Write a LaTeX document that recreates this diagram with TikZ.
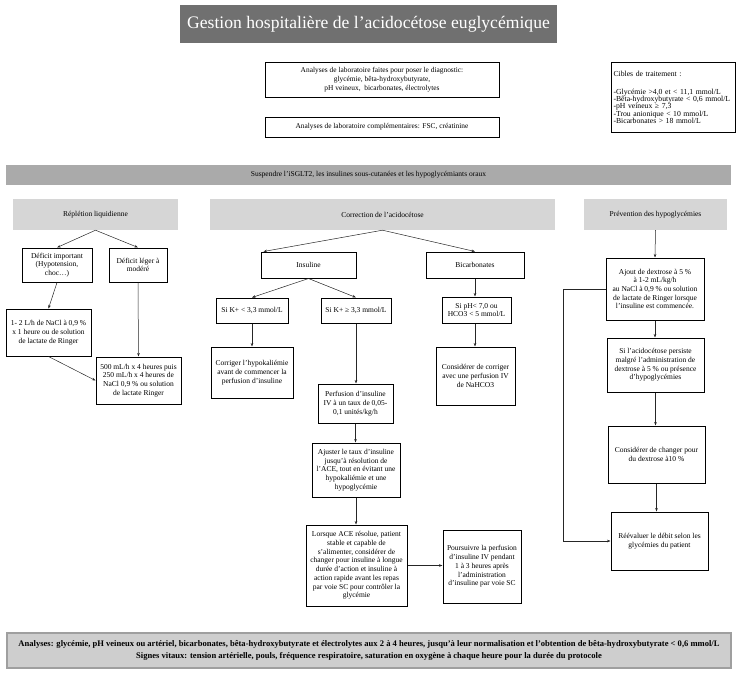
\documentclass[tikz,border=0pt]{standalone}
\usepackage{fontspec}
\setmainfont{Liberation Serif}
\usepackage{tikz}
\usetikzlibrary{arrows.meta}
\definecolor{titlegray}{RGB}{112,112,112}
\definecolor{bannergray}{RGB}{170,170,170}
\definecolor{hdrgray}{RGB}{214,214,214}
\definecolor{footgray}{RGB}{206,206,206}
\newcommand{\flowtext}{\fontsize{7.5}{8.7}\selectfont}
\newcommand{\labtext}{\fontsize{7.4}{9}\selectfont}

\begin{document}
\begin{tikzpicture}[x=1pt, y=-1pt,
    box/.style={draw, line width=1pt, align=center, font=\flowtext, inner sep=1pt},
    hdr/.style={fill=hdrgray, align=center, font=\flowtext, minimum height=31pt},
    arr/.style={-{Stealth[length=3.5pt,width=2.6pt]}, line width=0.5pt, draw=black!85}]
    \useasboundingbox (0,0) rectangle (737,678);

    % title and lab boxes
    \node[fill=titlegray, text=white, font=\fontsize{17.6}{19}\selectfont,
      minimum width=377pt, minimum height=38pt] (title) at (368.5,24)
      {Gestion hospitalière de l’acidocétose euglycémique};
    \node[box, font=\labtext, minimum width=234pt, minimum height=35pt] (lab1) at (382,79.5)
      {Analyses de laboratoire faites pour poser le diagnostic:\\
       glycémie, bêta-hydroxybutyrate,\\ pH veineux,\ \ bicarbonates, électrolytes};
    \node[box, font=\labtext, minimum width=234pt, minimum height=20pt] (lab2) at (382,127)
      {Analyses de laboratoire complémentaires: FSC, créatinine};
    \node[box, font=\fontsize{7.7}{7.4}\selectfont, align=left, anchor=north west,
      minimum width=124pt, minimum height=70pt, inner sep=2pt, text width=120pt] (cibles) at (611,62)
      {Cibles de traitement :\\[10pt]
       -Glycémie >4,0 et < 11,1 mmol/L\\ -Bêta-hydroxybutyrate < 0,6 mmol/L\\
       -pH veineux ≥ 7,3\\ -Trou anionique < 10 mmol/L\\ -Bicarbonates > 18 mmol/L\\[3pt]};

    \node[fill=bannergray, font=\flowtext, minimum width=725pt, minimum height=20pt] (stop) at (368.5,175)
      {Suspendre l’iSGLT2, les insulines sous-cutanées et les hypoglycémiants oraux};

    % column headers
    \node[hdr, minimum width=165pt] (hdrL) at (95.5,214.5) {Réplétion liquidienne};
    \node[hdr, minimum width=345pt] (hdrM) at (382.5,214.5) {Correction de l’acidocétose};
    \node[hdr, minimum width=143pt] (hdrR) at (655.5,214.5) {Prévention des hypoglycémies};

    % fluid column
    \node[box, minimum width=70pt, minimum height=34pt] (defImp) at (57,265)
      {Déficit important\\ (Hypotension,\\ choc…)};
    \node[box, minimum width=58pt, minimum height=34pt] (defLeg) at (138,265)
      {Déficit léger à\\ modéré};
    \node[box, minimum width=85pt, minimum height=47pt] (nacl) at (48.5,332.5)
      {1- 2 L/h de NaCl à 0,9 \%\\ x 1 heure ou de solution\\ de lactate de Ringer};
    \node[box, minimum width=85pt, minimum height=47pt] (ml500) at (138.5,380.5)
      {500 mL/h x 4 heures puis\\ 250 mL/h x 4 heures de\\ NaCl 0,9 \% ou solution\\ de lactate Ringer};

    % acidosis column
    \node[box, minimum width=95pt, minimum height=26pt] (ins) at (308.5,265) {Insuline};
    \node[box, minimum width=98pt, minimum height=26pt] (bic) at (475,265) {Bicarbonates};
    \node[box, minimum width=72pt, minimum height=25pt] (kLow) at (252,310.5) {Si K+ < 3,3 mmol/L};
    \node[box, minimum width=70pt, minimum height=25pt] (kHigh) at (356,310.5) {Si K+ ≥ 3,3 mmol/L};
    \node[box, minimum width=69pt, minimum height=26pt] (phLow) at (476.5,310)
      {Si pH< 7,0 ou\\ HCO3 < 5 mmol/L};
    \node[box, minimum width=82pt, minimum height=51pt] (corrK) at (252,372.5)
      {Corriger l'hypokaliémie\\ avant de commencer la\\ perfusion d’insuline};
    \node[box, minimum width=79pt, minimum height=58pt] (nahco) at (475.5,376)
      {Considérer de corriger\\ avec une perfusion IV\\ de NaHCO3};
    \node[box, minimum width=75pt, minimum height=39pt] (perf) at (355.5,403.5)
      {Perfusion d’insuline\\ IV à un taux de 0,05-\\ 0,1 unités/kg/h};
    \node[box, minimum width=88pt, minimum height=54pt] (ajust) at (356,470)
      {Ajuster le taux d’insuline\\ jusqu’à résolution de\\ l’ACE, tout en évitant une\\
       hypokaliémie et une\\ hypoglycémie};
    \node[box, minimum width=101pt, minimum height=81pt] (lorsq) at (356.5,565.5)
      {Lorsque ACE résolue, patient\\ stable et capable de\\ s’alimenter, considérer de\\
       changer pour insuline à longue\\ durée d’action et insuline à\\ action rapide avant les repas\\
       par voie SC pour contrôler la\\ glycémie};
    \node[box, minimum width=78pt, minimum height=73pt] (poursuiv) at (482,566.5)
      {Poursuivre la perfusion\\ d’insuline IV pendant\\ 1 à 3 heures après\\ l’administration\\
       d’insuline par voie SC};

    % hypoglycaemia column
    \node[box, minimum width=98pt, minimum height=62pt] (ajout) at (655,289)
      {Ajout de dextrose à 5 \%\\ à 1-2 mL/kg/h\\ au NaCl à 0,9 \% ou solution\\
       de lactate de Ringer lorsque\\ l’insuline est commencée.};
    \node[box, minimum width=97pt, minimum height=54pt] (persist) at (655.5,365)
      {Si l’acidocétose persiste\\ malgré l’administration de\\ dextrose à 5 \% ou présence\\
       d’hypoglycémies};
    \node[box, minimum width=97pt, minimum height=57pt] (dex10) at (656.5,454.5)
      {Considérer de changer pour\\ du dextrose à10 \%};
    \node[box, minimum width=97pt, minimum height=58pt] (reeval) at (659.5,541)
      {Réévaluer le débit selon les\\ glycémies du patient};
    \coordinate (loopx) at (563,0);

    % monitoring
    \node[fill=footgray, draw=gray!75, line width=1.2pt, align=center,
      font=\bfseries\fontsize{8.55}{12}\selectfont, minimum width=724pt, minimum height=35pt] (suivi) at (369,650.5)
      {Analyses: glycémie, pH veineux ou artériel, bicarbonates, bêta-hydroxybutyrate et électrolytes aux 2 à 4 heures, jusqu’à leur normalisation et l’obtention de bêta-hydroxybutyrate < 0,6 mmol/L\\
       Signes vitaux: tension artérielle, pouls, fréquence respiratoire, saturation en oxygène à chaque heure pour la durée du protocole};

    % connectors
    \draw[arr] (hdrL.south) -- (defImp.north);
    \draw[arr] (hdrL.south) -- (defLeg.north);
    \draw[arr] (defImp.south) -- (nacl.north);
    \draw[arr] (defLeg.south) -- (ml500.north);
    \draw[arr] (nacl.south) -- (ml500.west);

    \draw[arr] (hdrM.south) -- ([xshift=3pt]ins.north west);
    \draw[arr] (hdrM.south) -- (bic.north);
    \draw[arr] (ins.south) -- (kLow.north);
    \draw[arr] (ins.south) -- (kHigh.north);
    \draw[arr] (bic.south) -- (phLow.north -| bic.south);
    \draw[arr] (kLow.south) -- (corrK.north);
    \draw[arr] (kHigh.south) -- (perf.north -| kHigh.south);
    \draw[arr] (phLow.south -| bic.south) -- (nahco.north -| bic.south);
    \draw[arr] (perf.south) -- (ajust.north -| perf.south);
    \draw[arr] (ajust.south) -- (lorsq.north -| ajust.south);
    \draw[arr] (lorsq.east) -- (poursuiv.west |- lorsq.east);

    \draw[arr] (hdrR.south) -- (ajout.north);
    \draw[arr] (ajout.south) -- (persist.north -| ajout.south);
    \draw[arr] (persist.south) -- (dex10.north -| persist.south);
    \draw[arr] (dex10.south) -- (reeval.north -| dex10.south);
    \draw[arr] (ajout.west) -- (ajout.west -| loopx) |- (reeval.west);
\end{tikzpicture}
\end{document}
